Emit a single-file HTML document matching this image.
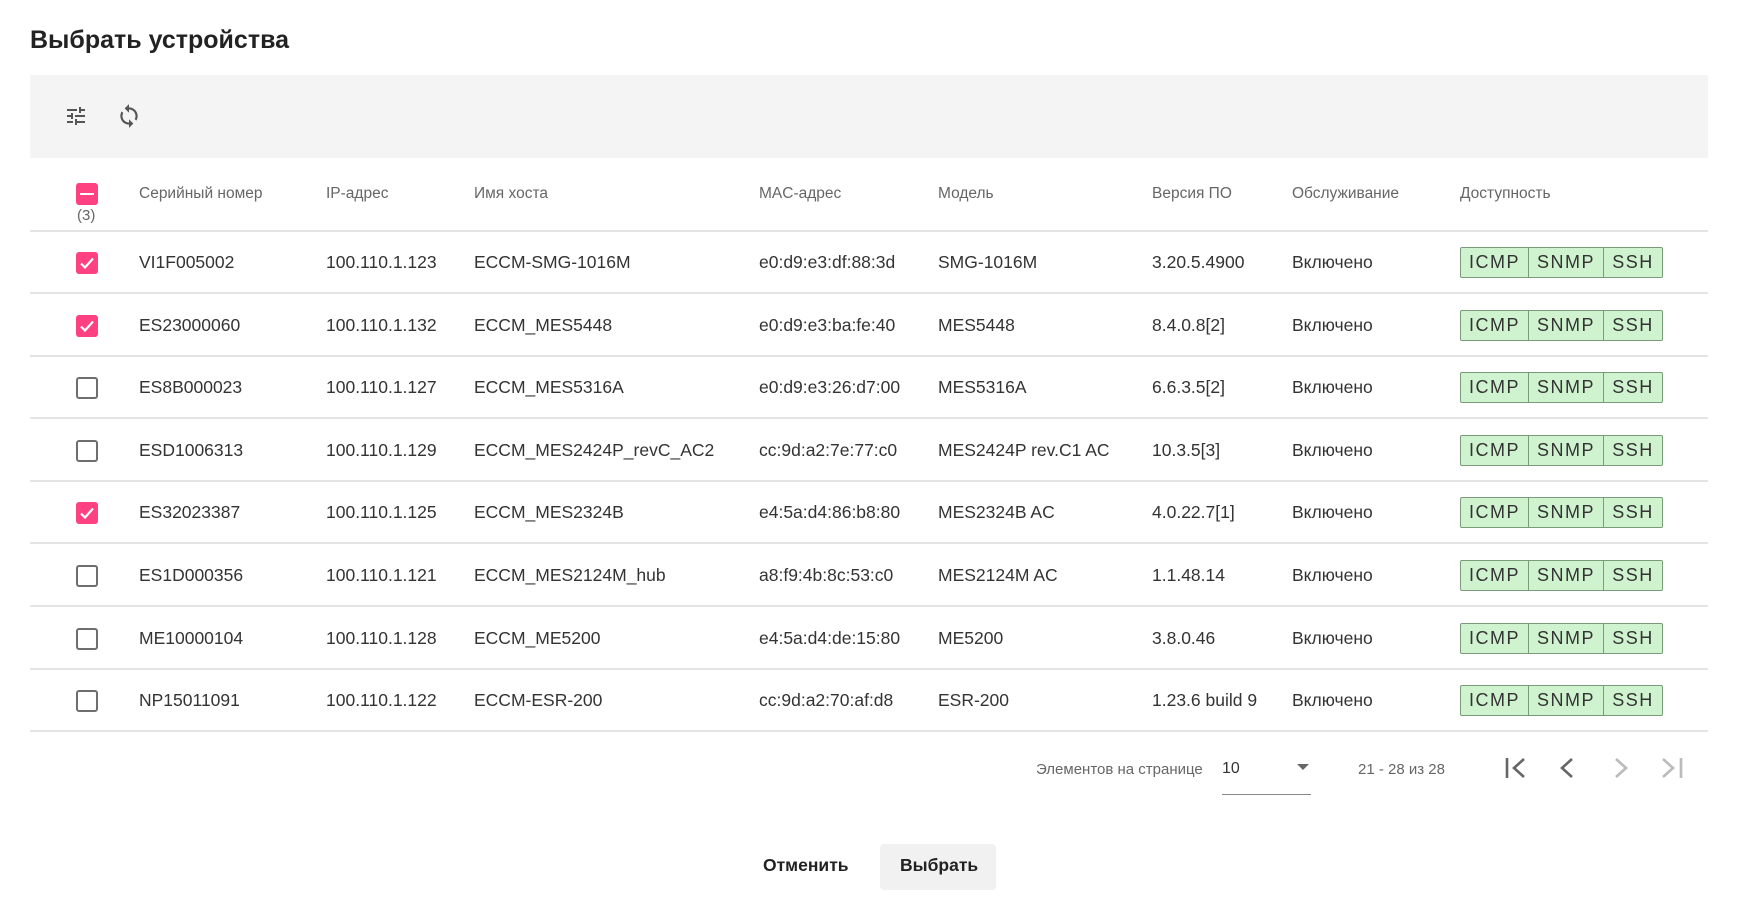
<!DOCTYPE html>
<html><head><meta charset="utf-8"><style>
body{margin:0;width:1737px;height:898px;background:#fff;font-family:"Liberation Sans",Roboto,sans-serif;position:relative;overflow:hidden;color:#333}
.a{position:absolute;white-space:nowrap}
.title{left:30px;top:26px;font-size:25px;font-weight:bold;color:#222}
.tb{left:30px;top:75px;width:1678px;height:83px;background:#f4f4f4}
.h{font-size:15.5px;color:#666;top:185px}
.line{position:absolute;left:30px;width:1678px;height:2px;background:#e4e4e4}
.cell{font-size:17.5px;color:#333}
.cb{position:absolute;left:76px;width:22px;height:22px;border-radius:3px;box-sizing:border-box}
.on{background:#ff4081}
.off{border:2px solid #6e6e6e}
.badge{position:absolute;left:1460px;width:203px;height:31px;box-sizing:border-box;border:1px solid #7a9a7a;background:#cff2cf;border-radius:2px;display:flex;font-size:18px;color:#333;letter-spacing:1.5px}
.badge span{display:flex;align-items:center;justify-content:center;border-right:1px solid #7a9a7a;box-sizing:border-box}
.badge span:last-child{border-right:none}
.pg{font-size:15px;color:#666;top:761px}
</style></head><body>
<div class="a title">Выбрать устройства</div>
<div class="a tb"></div>
<svg class="a" style="left:63px;top:104px" width="26" height="24" viewBox="0 0 24 24"><path fill="#555" d="M3 17v2h6v-2H3zM3 5v2h10V5H3zm10 16v-2h8v-2h-8v-2h-2v6h2zM7 9v2H3v2h4v2h2V9H7zm14 4v-2H11v2h10zm-6-4h2V7h4V5h-4V3h-2v6z"/></svg>
<svg class="a" style="left:116px;top:103px" width="26" height="26" viewBox="0 0 24 24"><path fill="#555" d="M12 4V1L8 5l4 4V6c3.31 0 6 2.69 6 6 0 1.01-.25 1.97-.7 2.8l1.46 1.46C19.54 15.03 20 13.57 20 12c0-4.42-3.58-8-8-8zm0 14c-3.31 0-6-2.69-6-6 0-1.01.25-1.97.7-2.8L5.24 7.74C4.46 8.97 4 10.43 4 12c0 4.42 3.58 8 8 8v3l4-4-4-4v3z"/></svg>

<div class="cb on" style="top:183px"><div style="position:absolute;left:4px;right:4px;top:10px;height:2px;background:#fff"></div></div>
<div class="a" style="left:77px;top:207px;font-size:15px;color:#666">(3)</div>
<div class="a h" style="left:139px">Серийный номер</div>
<div class="a h" style="left:326px">IP-адрес</div>
<div class="a h" style="left:474px">Имя хоста</div>
<div class="a h" style="left:759px">MAC-адрес</div>
<div class="a h" style="left:938px">Модель</div>
<div class="a h" style="left:1152px">Версия ПО</div>
<div class="a h" style="left:1292px">Обслуживание</div>
<div class="a h" style="left:1460px">Доступность</div>
<div class="line" style="top:230px"></div>

<div id="rows"></div>
<script>
var d=[[1,"VI1F005002","100.110.1.123","ECCM-SMG-1016M","e0:d9:e3:df:88:3d","SMG-1016M","3.20.5.4900"],
[1,"ES23000060","100.110.1.132","ECCM_MES5448","e0:d9:e3:ba:fe:40","MES5448","8.4.0.8[2]"],
[0,"ES8B000023","100.110.1.127","ECCM_MES5316A","e0:d9:e3:26:d7:00","MES5316A","6.6.3.5[2]"],
[0,"ESD1006313","100.110.1.129","ECCM_MES2424P_revC_AC2","cc:9d:a2:7e:77:c0","MES2424P rev.C1 AC","10.3.5[3]"],
[1,"ES32023387","100.110.1.125","ECCM_MES2324B","e4:5a:d4:86:b8:80","MES2324B AC","4.0.22.7[1]"],
[0,"ES1D000356","100.110.1.121","ECCM_MES2124M_hub","a8:f9:4b:8c:53:c0","MES2124M AC","1.1.48.14"],
[0,"ME10000104","100.110.1.128","ECCM_ME5200","e4:5a:d4:de:15:80","ME5200","3.8.0.46"],
[0,"NP15011091","100.110.1.122","ECCM-ESR-200","cc:9d:a2:70:af:d8","ESR-200","1.23.6 build 9"]];
var xs=[139,326,474,759,938,1152],h="";
d.forEach(function(r,i){var c=263+i*62.6;
h+='<div class="cb '+(r[0]?'on':'off')+'" style="top:'+(c-11)+'px">'+(r[0]?'<svg width="22" height="22" viewBox="0 0 22 22" style="position:absolute;left:0;top:0"><path d="M5 11.5l4 4 8-9" stroke="#fff" stroke-width="2.2" fill="none"/></svg>':'')+'</div>';
for(var k=0;k<6;k++)h+='<div class="a cell" style="left:'+xs[k]+'px;top:'+(c-11)+'px">'+r[k+1]+'</div>';
h+='<div class="a cell" style="left:1292px;top:'+(c-11)+'px">Включено</div>';
h+='<div class="badge" style="top:'+(c-16)+'px"><span style="width:68px">ICMP</span><span style="width:75px">SNMP</span><span style="width:58px">SSH</span></div>';
h+='<div class="line" style="top:'+Math.round(c+29)+'px"></div>';});
document.getElementById("rows").innerHTML=h;
</script>

<div class="a pg" style="left:1036px">Элементов на странице</div>
<div class="a" style="left:1222px;top:760px;font-size:16px;color:#333">10</div>
<div class="a" style="left:1297px;top:764px;width:0;height:0;border-left:6px solid transparent;border-right:6px solid transparent;border-top:6px solid #666"></div>
<div class="a" style="left:1222px;top:794px;width:89px;height:1px;background:#888"></div>
<div class="a pg" style="left:1358px">21 - 28 из 28</div>
<svg class="a" style="left:1500px;top:755px" width="200" height="28" viewBox="0 0 200 28">
<g fill="none" stroke-width="2.6"><path d="M7 3v20" stroke="#666"/><path d="M24 4l-10 9 10 9" stroke="#666"/>
<path d="M72 4l-10 9 10 9" stroke="#666"/><path d="M116 4l10 9-10 9" stroke="#bbb"/>
<path d="M163 4l10 9-10 9" stroke="#bbb"/><path d="M181 3v20" stroke="#bbb"/></g></svg>

<div class="a" style="left:763px;top:855px;font-size:17.5px;color:#222;font-weight:bold">Отменить</div>
<div class="a" style="left:880px;top:844px;width:116px;height:46px;background:#f1f1f1;border-radius:4px"></div>
<div class="a" style="left:900px;top:855px;font-size:17.5px;color:#222;font-weight:bold">Выбрать</div>
</body></html>
